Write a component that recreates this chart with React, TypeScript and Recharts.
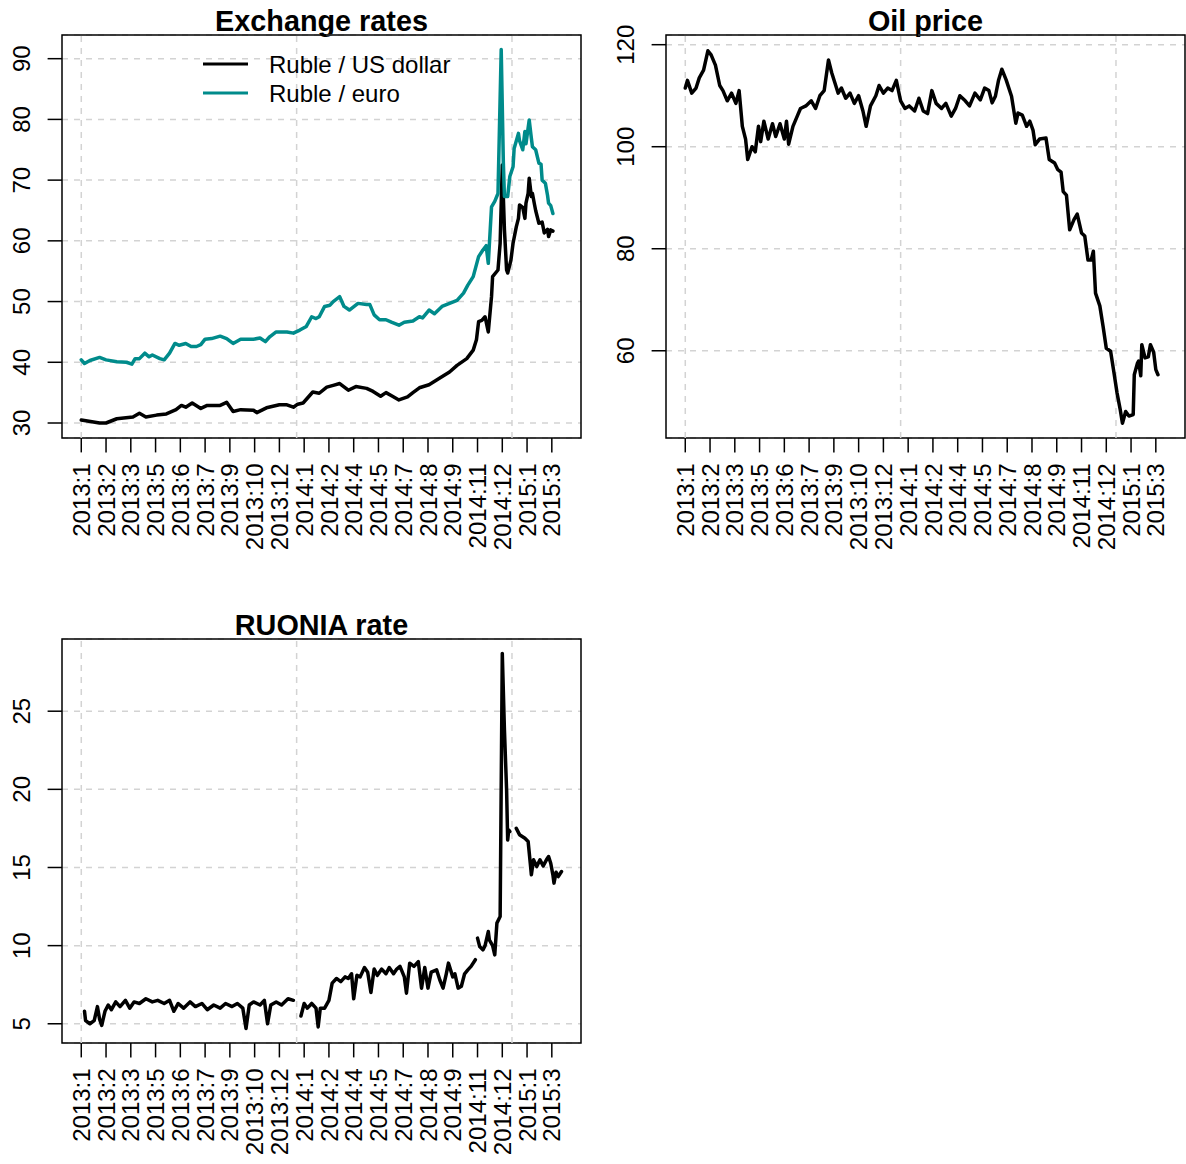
import React from 'react';
import {
  LineChart,
  Line,
  XAxis,
  YAxis,
  CartesianGrid,
  ReferenceLine,
  ReferenceArea,
  Legend,
} from 'recharts';

// ---------------- data ----------------
// x = observation index (trading-day number), value read from the picture
const xTickPositions = [0, 23, 46, 69, 92, 115, 138, 161, 184, 207, 230, 253, 276, 299, 322, 345, 368, 391, 414, 437];
const xTickLabels = [
  '2013:1', '2013:2', '2013:3', '2013:5', '2013:6', '2013:7', '2013:9', '2013:10', '2013:12',
  '2014:1', '2014:2', '2014:4', '2014:5', '2014:7', '2014:8', '2014:9', '2014:11', '2014:12',
  '2015:1', '2015:3',
];
const yearGridX = [0, 200, 400];

const fxTicks = [30, 40, 50, 60, 70, 80, 90];
const oilTicks = [60, 80, 100, 120];
const ruoniaTicks = [5, 10, 15, 20, 25];

const legendLabels = ['Ruble / US dollar', 'Ruble / euro'];
const titles = ['Exchange rates', 'Oil price', 'RUONIA rate'];

const rubUsd: [number, number][] = [
  [0, 30.5], [17, 30.0], [23, 30.0], [33, 30.7], [48, 31.0], [54, 31.6], [60, 31.0], [70, 31.3],
  [79, 31.5], [88, 32.2], [93, 32.9], [97, 32.6], [103, 33.3], [111, 32.4], [117, 32.9], [129, 32.9],
  [135, 33.4], [141, 31.9], [148, 32.2], [160, 32.1], [163, 31.7], [172, 32.5], [184, 33.0], [191, 33.0],
  [197, 32.6], [201, 33.1], [206, 33.3], [215, 35.1], [221, 34.9], [228, 35.9], [234, 36.2], [240, 36.5],
  [248, 35.4], [255, 36.0], [265, 35.7], [271, 35.2], [278, 34.4], [283, 35.0], [289, 34.4], [295, 33.8],
  [303, 34.3], [308, 35.0], [314, 35.8], [323, 36.3], [333, 37.4], [342, 38.4], [349, 39.5], [358, 40.6],
  [364, 42.0], [367, 43.7], [369, 46.7], [372, 46.9], [375, 47.5], [378, 45.0], [381, 50.8], [382, 54.1],
  [387, 55.2], [389, 59.6], [391, 72.5], [393, 61.8], [395, 55.2], [396, 54.7], [399, 56.8], [401, 59.6],
  [404, 62.3], [406, 63.7], [407, 65.9], [410, 65.5], [412, 63.7], [413, 66.2], [415, 67.8], [416, 70.3],
  [418, 67.3], [419, 67.8], [421, 65.9], [422, 65.0], [425, 62.9], [428, 63.1], [430, 61.3], [433, 61.9],
  [434, 60.7], [436, 61.8], [438, 61.6],
];

const rubEur: [number, number][] = [
  [0, 40.4], [3, 39.8], [8, 40.3], [17, 40.8], [23, 40.4], [33, 40.1], [42, 40.0], [47, 39.7],
  [50, 40.6], [54, 40.6], [59, 41.5], [63, 40.9], [66, 41.2], [73, 40.6], [77, 40.4], [82, 41.5],
  [87, 43.1], [91, 42.8], [97, 43.1], [102, 42.6], [107, 42.6], [111, 42.9], [115, 43.8], [121, 43.9],
  [129, 44.3], [135, 43.9], [141, 43.1], [148, 43.8], [160, 43.8], [166, 44.0], [171, 43.4], [175, 44.2],
  [181, 45.0], [191, 45.0], [197, 44.8], [203, 45.3], [209, 45.9], [214, 47.5], [218, 47.2], [221, 47.5],
  [226, 49.2], [231, 49.4], [234, 50.0], [240, 50.8], [244, 49.2], [249, 48.6], [257, 49.7], [265, 49.5],
  [268, 49.5], [272, 47.8], [277, 47.0], [283, 47.0], [288, 46.6], [295, 46.1], [300, 46.6], [308, 46.8],
  [314, 47.5], [317, 47.3], [323, 48.6], [328, 48.0], [335, 49.2], [342, 49.7], [349, 50.2], [355, 51.4],
  [359, 52.7], [364, 54.1], [369, 57.4], [373, 58.5], [376, 59.2], [378, 56.3], [381, 65.6], [384, 66.5],
  [387, 67.8], [390, 91.5], [392, 72.8], [393, 67.3], [396, 67.3], [398, 70.6], [401, 72.2], [402, 75.2],
  [406, 77.7], [407, 76.5], [410, 75.0], [412, 78.0], [413, 76.0], [416, 79.9], [418, 76.9], [419, 75.5],
  [422, 75.0], [425, 72.8], [427, 72.6], [428, 70.0], [431, 69.5], [433, 67.5], [434, 66.2], [436, 65.8],
  [438, 64.5],
];

const oilPrice: [number, number][] = [
  [0, 111.5], [2, 113], [6, 110.5], [10, 111.5], [13, 113.5], [17, 115], [21, 118.8], [24, 118],
  [28, 116], [32, 112], [35, 111], [39, 109], [43, 110.5], [47, 108.5], [50, 111], [53, 104],
  [56, 101.5], [58, 97.5], [62, 100], [65, 99], [68, 104], [70, 101], [73, 105], [77, 101.5],
  [81, 104.5], [84, 102], [88, 104.5], [92, 101.5], [94, 105], [96, 100.5], [100, 104], [104, 106],
  [107, 107.5], [112, 108], [117, 109], [121, 107.5], [125, 110], [129, 111], [131, 114], [133, 117],
  [136, 114.5], [139, 112.5], [142, 110.5], [145, 111.5], [149, 109.5], [153, 110.5], [157, 108.5], [161, 110],
  [165, 107], [168, 104], [172, 108], [177, 110], [180, 112], [184, 110.5], [188, 111.5], [192, 111],
  [196, 113], [200, 109], [204, 107.5], [208, 108], [213, 107], [217, 109.5], [221, 107], [225, 106.5],
  [229, 111], [233, 108.5], [238, 107.5], [242, 108.5], [247, 106], [251, 107.5], [255, 110], [260, 109],
  [264, 108], [269, 110.5], [274, 109.2], [278, 111.5], [282, 111], [285, 108.6], [288, 109.9], [291, 113.1],
  [294, 115.2], [298, 113.1], [303, 109.9], [307, 104.6], [309, 106.6], [313, 106.2], [317, 104.0], [320, 105],
  [323, 103.2], [325, 100.4], [329, 101.5], [335, 101.7], [338, 97.5], [343, 96.8], [346, 95.5], [349, 95],
  [351, 91.2], [354, 90.5], [357, 83.7], [361, 85.7], [364, 86.8], [368, 83.1], [371, 82.5], [374, 77.8],
  [377, 77.8], [379, 79.5], [381, 71.3], [385, 68.8], [388, 64.8], [391, 60.5], [395, 59.9], [398, 55.9],
  [401, 51.7], [404, 48.4], [406, 45.8], [409, 48.1], [412, 47.2], [416, 47.5], [417, 55.3], [420, 57.6],
  [421, 58], [423, 55.1], [424, 61.2], [427, 58.6], [430, 58.8], [432, 61.2], [435, 59.7], [437, 56.3],
  [439, 55.3],
];

const ruonia: [number, number | null][] = [
  [3, 5.8], [4, 5.2], [8, 5.0], [12, 5.2], [15, 6.1], [17, 5.3], [19, 4.9], [22, 5.8], [25, 6.2],
  [28, 5.9], [32, 6.4], [36, 6.1], [41, 6.5], [45, 6.0], [49, 6.4], [54, 6.3], [60, 6.6], [66, 6.4],
  [71, 6.5], [77, 6.3], [82, 6.5], [86, 5.8], [90, 6.3], [95, 6.0], [101, 6.4], [106, 6.1], [112, 6.3],
  [117, 5.9], [123, 6.2], [129, 6.0], [134, 6.3], [140, 6.1], [145, 6.3], [150, 6.0], [153, 4.7],
  [156, 6.2], [160, 6.4], [166, 6.2], [170, 6.5], [173, 5.0], [176, 6.2], [181, 6.4], [186, 6.2],
  [192, 6.6], [197, 6.5], [199, null], [204, 5.5], [207, 6.3], [210, 6.0], [214, 6.3], [218, 6.0],
  [220, 4.8], [222, 6.0], [226, 6.0], [230, 6.5], [233, 7.6], [237, 7.9], [241, 7.7], [245, 8.0],
  [248, 7.9], [251, 8.2], [253, 6.6], [256, 8.1], [259, 8.0], [263, 8.6], [266, 8.3], [269, 7.0],
  [272, 8.5], [275, 8.1], [279, 8.5], [283, 8.2], [286, 8.6], [290, 8.2], [293, 8.5], [296, 8.67],
  [300, 8.0], [302, 6.96], [305, 8.88], [309, 8.67], [313, 8.98], [316, 7.28], [319, 8.6], [322, 7.28],
  [325, 8.3], [330, 8.45], [333, 7.8], [336, 7.28], [339, 8.2], [341, 8.88], [345, 8.0], [347, 8.2],
  [350, 7.28], [353, 7.4], [356, 8.2], [359, 8.45], [362, 8.67], [366, 9.1], [367, null], [368, 10.48],
  [370, 9.94], [373, 9.73], [375, 10.0], [378, 10.9], [379, 10.37], [382, 10.0], [384, 9.41], [386, 11.44],
  [389, 11.86], [391, 28.7], [393, 23.8], [395, 19.96], [396, 16.76], [397, 17.4], [398, 17.3], [400, null],
  [404, 17.5], [407, 17.1], [412, 16.87], [415, 16.66], [417, 15.27], [418, 14.53], [420, 15.49], [423, 15.06],
  [426, 15.49], [429, 15.1], [432, 15.49], [434, 15.7], [436, 15.27], [438, 14.53], [439, 14.0], [441, 14.7],
  [443, 14.42], [446, 14.74],
];

// ---------------- styling ----------------
const FONT = '"Liberation Sans", Arial, Helvetica, sans-serif';
const TEAL = '#008B8B';
const GRID = '#D3D3D3';
const X_DOMAIN: [number, number] = [-17.9, 464.1];

const toRows = (pts: [number, number | null][]) => pts.map(([x, v]) => ({ x, v }));

const XTick = (props: any) => {
  const { x, y, index } = props;
  const ty = y + 11;
  return (
    <text
      x={x}
      y={ty}
      transform={`rotate(-90 ${x} ${ty})`}
      textAnchor="end"
      dy="0.36em"
      fontSize={24}
      fontFamily={FONT}
      fill="#000"
    >
      {xTickLabels[index]}
    </text>
  );
};

const YTick = (props: any) => {
  const { x, y, payload } = props;
  const tx = x - 18;
  return (
    <text
      x={tx}
      y={y}
      transform={`rotate(-90 ${tx} ${y})`}
      textAnchor="middle"
      fontSize={24}
      fontFamily={FONT}
      fill="#000"
    >
      {payload.value}
    </text>
  );
};

const FxLegend = () => (
  <svg width={600} height={120} style={{ display: 'block' }}>
    <line x1={203} x2={248} y1={64} y2={64} stroke="#000" strokeWidth={3} />
    <line x1={203} x2={248} y1={93} y2={93} stroke={TEAL} strokeWidth={3} />
    <text x={269} y={72.5} fontSize={24} fontFamily={FONT} fill="#000">{legendLabels[0]}</text>
    <text x={269} y={101.5} fontSize={24} fontFamily={FONT} fill="#000">{legendLabels[1]}</text>
  </svg>
);

type SeriesDef = { rows: { x: number; v: number | null }[]; color: string; key: string };

function Panel(props: {
  width: number;
  height: number;
  margin: { top: number; right: number; bottom: number; left: number };
  xAxisHeight: number;
  yDomain: [number, number];
  yTicks: number[];
  series: SeriesDef[];
  legend?: boolean;
}) {
  const { width, height, margin, xAxisHeight, yDomain, yTicks, series, legend } = props;
  return (
    <LineChart width={width} height={height} margin={margin}>
      <XAxis
        type="number"
        dataKey="x"
        domain={X_DOMAIN}
        allowDataOverflow
        ticks={xTickPositions}
        interval={0}
        height={xAxisHeight}
        axisLine={false}
        tickLine={{ stroke: '#000', strokeWidth: 1.5 }}
        tickSize={14.4}
        tickMargin={0}
        tick={<XTick />}
        stroke="#000"
      />
      <YAxis
        type="number"
        domain={yDomain}
        allowDataOverflow
        ticks={yTicks}
        interval={0}
        width={62}
        axisLine={false}
        tickLine={{ stroke: '#000', strokeWidth: 1.5 }}
        tickSize={14.4}
        tickMargin={0}
        tick={<YTick />}
        stroke="#000"
      />
      <CartesianGrid vertical={false} stroke={GRID} strokeDasharray="6 6" strokeWidth={1.5} />
      {yearGridX.map((gx) => (
        <ReferenceLine key={gx} x={gx} stroke={GRID} strokeDasharray="6 6" strokeWidth={1.5} />
      ))}
      {series.map((s) => (
        <Line
          key={s.key}
          data={s.rows}
          dataKey="v"
          type="linear"
          stroke={s.color}
          strokeWidth={3.5}
          strokeLinejoin="round"
          strokeLinecap="round"
          dot={false}
          activeDot={false}
          connectNulls={false}
          isAnimationActive={false}
        />
      ))}
      <ReferenceArea
        x1={X_DOMAIN[0]}
        x2={X_DOMAIN[1]}
        y1={yDomain[0]}
        y2={yDomain[1]}
        fill="none"
        fillOpacity={0}
        stroke="#000"
        strokeWidth={1.5}
        ifOverflow="visible"
      />
      {legend ? (
        <Legend
          layout="vertical"
          align="center"
          verticalAlign="middle"
          content={() => <FxLegend />}
          wrapperStyle={{ left: 0, top: 0, width: 600, height: 120 }}
        />
      ) : null}
    </LineChart>
  );
}

export default function App() {
  return (
    <div
      style={{
        position: 'absolute',
        left: 0,
        top: 0,
        width: 1186,
        height: 1164,
        background: '#fff',
        fontFamily: FONT,
        overflow: 'hidden',
      }}
    >
      <svg width={1186} height={1164} style={{ position: 'absolute', left: 0, top: 0 }}>
        <text x={321.5} y={31} textAnchor="middle" fontSize={28.8} fontWeight="bold" fontFamily={FONT}>
          {titles[0]}
        </text>
        <text x={925.5} y={31} textAnchor="middle" fontSize={28.8} fontWeight="bold" fontFamily={FONT}>
          {titles[1]}
        </text>
        <text x={321.5} y={635} textAnchor="middle" fontSize={28.8} fontWeight="bold" fontFamily={FONT}>
          {titles[2]}
        </text>
      </svg>
      <div style={{ position: 'absolute', left: 0, top: 0 }}>
        <Panel
          width={600}
          height={600}
          margin={{ top: 35, right: 19, bottom: 22, left: 0 }}
          xAxisHeight={140}
          yDomain={[27.53, 93.9]}
          yTicks={fxTicks}
          series={[
            { key: 'usd', rows: toRows(rubUsd), color: '#000' },
            { key: 'eur', rows: toRows(rubEur), color: TEAL },
          ]}
          legend
        />
      </div>
      <div style={{ position: 'absolute', left: 604, top: 0 }}>
        <Panel
          width={582}
          height={600}
          margin={{ top: 35, right: 1, bottom: 22, left: 0 }}
          xAxisHeight={140}
          yDomain={[42.9, 121.9]}
          yTicks={oilTicks}
          series={[{ key: 'oil', rows: toRows(oilPrice), color: '#000' }]}
        />
      </div>
      <div style={{ position: 'absolute', left: 0, top: 600 }}>
        <Panel
          width={600}
          height={564}
          margin={{ top: 39, right: 19, bottom: 11, left: 0 }}
          xAxisHeight={110}
          yDomain={[3.77, 29.62]}
          yTicks={ruoniaTicks}
          series={[{ key: 'ruonia', rows: toRows(ruonia), color: '#000' }]}
        />
      </div>
    </div>
  );
}
